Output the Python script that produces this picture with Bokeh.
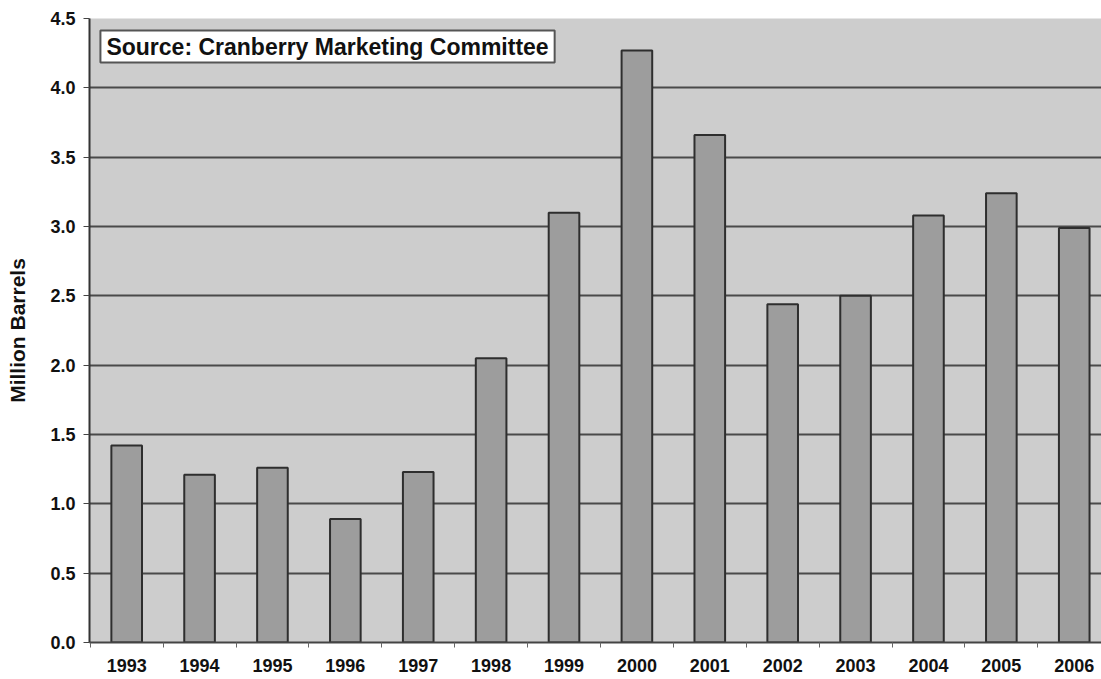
from bokeh.plotting import figure
from bokeh.models import FixedTicker, Label, ColumnDataSource, CustomJSTickFormatter
from bokeh.embed import file_html
from bokeh.resources import INLINE

years = [1993, 1994, 1995, 1996, 1997, 1998, 1999, 2000, 2001, 2002, 2003, 2004, 2005, 2006]
barrels = [1.42, 1.21, 1.26, 0.89, 1.23, 2.05, 3.10, 4.27, 3.66, 2.44, 2.50, 3.08, 3.24, 2.99]
y_ticks = [0.0, 0.5, 1.0, 1.5, 2.0, 2.5, 3.0, 3.5, 4.0, 4.5]
source_note = "Source: Cranberry Marketing Committee"
y_title = "Million Barrels"

FONT = "Liberation Sans"

p = figure(width=1101, height=679, output_backend="svg", toolbar_location=None,
           x_range=(1992.49, 2006.374), y_range=(0, 4.5),
           min_border_left=89, min_border_top=18, min_border_right=0, min_border_bottom=37)

p.background_fill_color = "#cdcdcd"
p.border_fill_color = "white"
p.outline_line_color = None

src = ColumnDataSource(dict(x=years, top=barrels))
p.vbar(x="x", top="top", bottom=0, width=0.42, source=src,
       fill_color="#9d9d9d", line_color="#2e2e2e", line_width=2)

# x axis: labels under bars, small ticks at category boundaries
p.xaxis.ticker = FixedTicker(ticks=years, minor_ticks=[y + 0.5 for y in years[:-1]] + [years[0] - 0.5])
p.xaxis.major_tick_line_color = None
p.xaxis.minor_tick_line_color = "#666666"
p.xaxis.minor_tick_out = 5
p.xaxis.minor_tick_in = 0
p.xaxis.axis_line_color = "#444444"
p.xaxis.axis_line_width = 2
p.xaxis.major_label_text_font = FONT
p.xaxis.major_label_text_font_style = "bold"
p.xaxis.major_label_text_font_size = "18px"
p.xaxis.major_label_text_color = "#111111"
p.xaxis.major_label_standoff = 10

p.yaxis.ticker = FixedTicker(ticks=y_ticks)
p.yaxis.formatter = CustomJSTickFormatter(code="return tick.toFixed(1);")
p.yaxis.minor_tick_line_color = None
p.yaxis.major_tick_out = 6
p.yaxis.major_tick_in = 0
p.yaxis.major_tick_line_color = "#444444"
p.yaxis.axis_line_color = "#333333"
p.yaxis.axis_line_width = 2
p.yaxis.major_label_text_font = FONT
p.yaxis.major_label_text_font_style = "bold"
p.yaxis.major_label_text_font_size = "18px"
p.yaxis.major_label_text_color = "#111111"
p.yaxis.major_label_standoff = 8
p.yaxis.axis_label = y_title
p.yaxis.axis_label_text_font = FONT
p.yaxis.axis_label_text_font_style = "bold"
p.yaxis.axis_label_text_font_size = "21px"
p.yaxis.axis_label_text_color = "#111111"
p.yaxis.axis_label_standoff = 18

p.xgrid.grid_line_color = None
p.ygrid.grid_line_color = "#4a4a4a"
p.ygrid.grid_line_width = 2

note = Label(x=1992.64, y=4.298, text=source_note, text_font=FONT, text_font_style="bold",
             text_font_size="23px", text_color="#111111", text_baseline="middle",
             background_fill_color="white", border_line_color="#555555", border_line_width=2,
             padding=(6, 3))
p.add_layout(note)

open("out.html", "w").write(file_html(p, INLINE))
